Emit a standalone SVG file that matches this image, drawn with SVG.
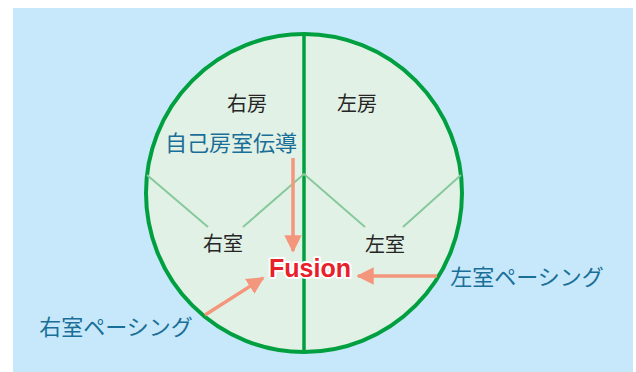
<svg xmlns="http://www.w3.org/2000/svg" width="636" height="372" viewBox="0 0 636 372">
<style>
.jp{font-family:"Noto Sans CJK JP","Noto Sans",sans-serif;text-anchor:middle}
.dark{fill:#262626;font-size:20px}
.blue{fill:#1a6f98;font-size:22px}
.sep{stroke:#86c99c;stroke-width:2;fill:none}
.arr{stroke:#f4967c;stroke-width:3.5;fill:none}
</style>
<defs>
<marker id="ah" viewBox="0 0 10 10" refX="9" refY="5" markerWidth="5" markerHeight="5" orient="auto" markerUnits="strokeWidth">
<path d="M0,0 L10,5 L0,10 z" fill="#f4967c"/>
</marker>
</defs>
<rect x="13" y="8" width="620" height="364" fill="#c6e8fa"/>
<g id="heart">
<ellipse cx="304" cy="193" rx="158" ry="159" fill="#e2f1e5" stroke="#00a040" stroke-width="4"/>
<line x1="304" y1="34" x2="304" y2="352" stroke="#00a040" stroke-width="3.5"/>
<path class="sep" d="M147,175 L208,227 M243,227 L304,174 L365,227 M403,227 L461,175"/>
</g>
<g id="ra"><text class="jp dark" x="247" y="111">右房</text></g>
<g id="la"><text class="jp dark" x="357" y="111">左房</text></g>
<g id="rv"><text class="jp dark" x="223" y="251">右室</text></g>
<g id="lv"><text class="jp dark" x="385" y="252">左室</text></g>
<g id="av"><text class="jp blue" x="231" y="151">自己房室伝導</text></g>
<g id="lvp"><text class="jp blue" x="527" y="285">左室ペーシング</text></g>
<g id="rvp"><text class="jp blue" x="116" y="335">右室ペーシング</text></g>
<g id="fusion"><text x="310" y="277" text-anchor="middle" font-family="Liberation Sans,Arial,sans-serif" font-weight="bold" font-size="25" fill="#e8202a" stroke="#ffffff" stroke-width="4" paint-order="stroke" stroke-linejoin="round">Fusion</text></g>
<g id="connectors">
<line class="arr" x1="293" y1="158" x2="293" y2="251" marker-end="url(#ah)"/>
<line class="arr" x1="437" y1="276" x2="358" y2="276" marker-end="url(#ah)"/>
<line class="arr" x1="205" y1="315" x2="263" y2="278" marker-end="url(#ah)"/>
</g>
</svg>
